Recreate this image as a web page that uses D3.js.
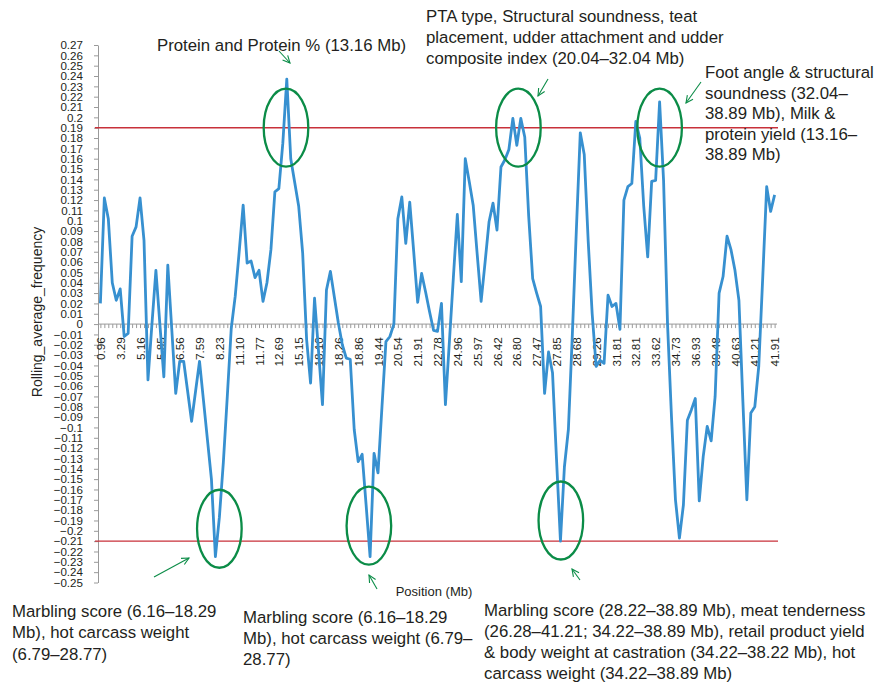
<!DOCTYPE html>
<html>
<head>
<meta charset="utf-8">
<script src="https://cdn.jsdelivr.net/npm/d3@7"></script>
<style>
  body { margin: 0; background: #fff; }
  svg text { font-family: "Liberation Sans", Arial, Helvetica, sans-serif; fill: #231f20; }
</style>
</head>
<body>
<svg id="chart" width="876" height="683"></svg>
<script>
// Position labels (Mb) shown on every 5th window
const positionLabels = ["0.96","3.29","5.16","5.85","6.56","7.59","8.23","11.10","11.77","12.69",
  "15.15","18.10","18.26","18.86","19.44","20.54","21.91","22.78","24.96","25.97",
  "26.42","26.80","27.47","27.85","28.68","29.26","31.81","32.81","33.62","34.73",
  "36.93","39.48","40.63","41.21","41.91"];
const labelEvery = 5;

// Rolling average frequency for each window along the chromosome
const frequency = [
  0.020, 0.122, 0.102, 0.040, 0.023, 0.034, -0.012, -0.009, 0.085, 0.094,
  0.122, 0.081, -0.054, 0.000, 0.052, 0.000, -0.051, 0.057, -0.005, -0.067,
  -0.036, -0.036, -0.065, -0.094, -0.065, -0.036, -0.074, -0.112, -0.150, -0.225,
  -0.187, -0.134, -0.070, -0.004, 0.027, 0.070, 0.115, 0.059, 0.061, 0.045,
  0.052, 0.022, 0.040, 0.072, 0.128, 0.131, 0.175, 0.237, 0.160, 0.137,
  0.114, 0.069, -0.015, -0.057, 0.025, -0.026, -0.078, 0.033, 0.051, 0.026,
  0.001, -0.020, -0.033, -0.034, -0.102, -0.133, -0.126, -0.175, -0.225, -0.125,
  -0.144, -0.080, -0.017, -0.012, 0.000, 0.102, 0.123, 0.078, 0.118, 0.070,
  0.021, 0.049, 0.031, 0.012, -0.006, -0.007, 0.020, -0.078, -0.017, 0.045,
  0.106, 0.041, 0.160, 0.138, 0.115, 0.068, 0.022, 0.060, 0.099, 0.117,
  0.091, 0.152, 0.159, 0.169, 0.199, 0.173, 0.199, 0.181, 0.104, 0.044,
  0.030, 0.017, -0.067, -0.027, -0.047, -0.130, -0.210, -0.138, -0.102, -0.010,
  0.090, 0.185, 0.164, 0.080, 0.010, -0.041, -0.035, -0.038, 0.028, 0.017,
  0.020, -0.005, 0.120, 0.133, 0.136, 0.196, 0.180, 0.114, 0.065, 0.138,
  0.139, 0.215, 0.139, 0.000, -0.090, -0.170, -0.207, -0.175, -0.093, -0.083,
  -0.072, -0.171, -0.128, -0.099, -0.113, -0.070, 0.030, 0.046, 0.085, 0.072,
  0.052, 0.023, -0.075, -0.170, -0.086, -0.080, -0.041, 0.045, 0.133, 0.109,
  0.125
];

// Significance thresholds
const thresholds = [0.19, -0.21];

// Highlighted regions: [window index, frequency] at the centre of each ring
const highlights = [[46.8, 0.19], [105.4, 0.19], [141.0, 0.19],
                    [30.0, -0.198], [67.7, -0.195], [116.1, -0.19]];

// Annotation texts
const noteProtein = ["Protein and Protein % (13.16 Mb)"];
const notePTA = ["PTA type, Structural soundness, teat",
                 "placement, udder attachment and udder",
                 "composite index (20.04\u201332.04 Mb)"];
const noteFoot = ["Foot angle & structural", "soundness (32.04\u2013",
                  "38.89 Mb), Milk &", "protein yield (13.16\u2013", "38.89 Mb)"];
const noteMarb1 = ["Marbling score (6.16\u201318.29", "Mb), hot carcass weight", "(6.79\u201328.77)"];
const noteMarb2 = ["Marbling score (6.16\u201318.29", "Mb), hot carcass weight (6.79\u2013", "28.77)"];
const noteMarb3 = ["Marbling score (28.22\u201338.89 Mb), meat tenderness",
                   "(26.28\u201341.21; 34.22\u201338.89 Mb), retail product yield",
                   "& body weight at castration (34.22\u201338.22 Mb), hot",
                   "carcass weight (34.22\u201338.89 Mb)"];

const svg = d3.select("#chart");
const axisLeftX = 98, axisRightX = 777;
const AXIS_GREY = "#9a9a9a";
const GREEN = "#0b8c47";

const x = d3.scalePoint()
  .domain(d3.range(frequency.length))
  .range([axisLeftX, axisRightX])
  .padding(0.6);

const y = d3.scaleLinear().domain([-0.25, 0.27]).range([582.5, 45]);

const fmt = v => {
  const r = Math.round(v * 100) / 100;
  if (r === 0) return "0";
  return (r < 0 ? "\u2212" : "") + String(Math.abs(r));
};

// Y axis
const yAxis = svg.append("g")
  .attr("transform", `translate(${axisLeftX},0)`)
  .call(d3.axisLeft(y)
    .tickValues(d3.range(-25, 28).map(d => d / 100))
    .tickSize(4).tickSizeOuter(0).tickPadding(11)
    .tickFormat(fmt));
yAxis.select(".domain").attr("stroke", AXIS_GREY);
yAxis.selectAll(".tick line").attr("stroke", AXIS_GREY);
yAxis.selectAll(".tick text").attr("font-size", "11.6px").style("fill", "#231f20");

// Category axis along zero
const xAxis = svg.append("g")
  .attr("transform", `translate(0,${y(0)})`)
  .call(d3.axisBottom(x)
    .tickSize(4).tickSizeOuter(0)
    .tickFormat(i => i % labelEvery === 0 ? positionLabels[i / labelEvery] : ""));
xAxis.select(".domain").attr("d", `M${axisLeftX},0H${axisRightX}`).attr("stroke", AXIS_GREY);
xAxis.selectAll(".tick line").attr("stroke", AXIS_GREY);
xAxis.selectAll(".tick text")
  .attr("font-size", "11.8px")
  .style("fill", "#231f20")
  .attr("transform", "rotate(-90)")
  .attr("text-anchor", "end")
  .attr("x", -13).attr("y", 0).attr("dy", "0.35em");

// Threshold lines
svg.selectAll(".threshold").data(thresholds).join("line")
  .attr("x1", axisLeftX - 3).attr("x2", axisRightX + 1)
  .attr("y1", d => y(d)).attr("y2", d => y(d))
  .attr("stroke", "#c8313a").attr("stroke-width", 1.4);

// Frequency line
svg.append("path")
  .datum(frequency)
  .attr("fill", "none")
  .attr("stroke", "#3790d0")
  .attr("stroke-width", 2.8)
  .attr("stroke-linejoin", "round")
  .attr("d", d3.line().x((d, i) => x(i)).y(d => y(d)));

// Rings around the highlighted peaks
const step = x.step();
svg.selectAll(".ring").data(highlights).join("ellipse")
  .attr("cx", d => x(0) + d[0] * step)
  .attr("cy", d => y(d[1]))
  .attr("rx", 22.3).attr("ry", 39)
  .attr("fill", "none").attr("stroke", GREEN).attr("stroke-width", 2.3);

// Arrows
function arrow(x1, y1, x2, y2) {
  const a = Math.atan2(y2 - y1, x2 - x1), L = 8, w = 0.45;
  const g = svg.append("g").attr("stroke", GREEN).attr("stroke-width", 1.1).attr("fill", "none");
  g.append("line").attr("x1", x1).attr("y1", y1).attr("x2", x2).attr("y2", y2);
  g.append("path").attr("d",
    `M${x2 - L * Math.cos(a - w)},${y2 - L * Math.sin(a - w)}L${x2},${y2}L${x2 - L * Math.cos(a + w)},${y2 - L * Math.sin(a + w)}`);
}
arrow(279, 51, 290, 63);
arrow(548, 79, 538, 96);
arrow(701, 82, 686, 103);
arrow(154, 577, 189, 558);
arrow(377, 589, 369, 575);
arrow(580, 580, 572, 569);

// Text blocks
function note(lines, x0, y0, lh) {
  const t = svg.append("text").attr("font-size", "16.8px");
  lines.forEach((s, k) => t.append("tspan").attr("x", x0).attr("y", y0 + k * lh).text(s));
}
note(noteProtein, 157, 51, 21);
note(notePTA, 426, 22, 21);
note(noteFoot, 705, 78, 20.6);
note(noteMarb1, 12, 617, 21.3);
note(noteMarb2, 243, 623, 21);
note(noteMarb3, 484, 616, 21);

// Axis titles
svg.append("text")
  .attr("transform", "translate(42,312) rotate(-90)")
  .attr("text-anchor", "middle")
  .attr("font-size", "14px")
  .text("Rolling_average_frequency");
svg.append("text")
  .attr("x", 434).attr("y", 596)
  .attr("text-anchor", "middle")
  .attr("font-size", "13px")
  .text("Position (Mb)");
</script>
</body>
</html>
